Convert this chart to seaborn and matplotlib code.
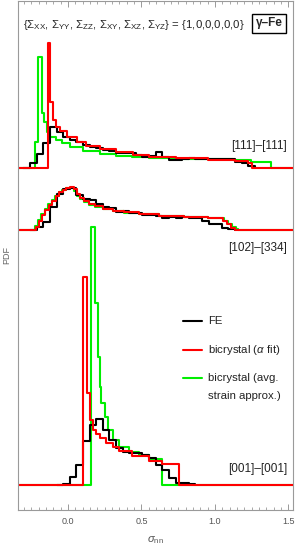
import numpy as np
import pandas as pd
import seaborn as sns
import matplotlib.pyplot as plt
from matplotlib.ticker import MultipleLocator

sns.set_theme(style='white')
plt.rcParams['font.family'] = ['Liberation Sans', 'DejaVu Sans']
plt.rcParams['mathtext.fontset'] = 'custom'
plt.rcParams['mathtext.rm'] = 'Liberation Sans'
plt.rcParams['mathtext.it'] = 'Liberation Sans:italic'
plt.rcParams['mathtext.bf'] = 'Liberation Sans:bold'

# ---- data (sigma_nn bin edges, PDF heights) ----
# FE histograms: uniform bins
fe_width = 0.045
fe_top_start = -0.303
fe_top_pdf = [0.0, 0.25, 0.72, 1.25, 2.08, 1.83, 1.58, 1.42, 1.32, 1.17, 1.08, 1.0,
              0.92, 0.87, 0.75, 0.75, 0.75, 0.68, 0.55, 0.62, 0.80, 0.58, 0.42, 0.42,
              0.45, 0.50, 0.47, 0.47, 0.46, 0.45, 0.45, 0.45, 0.33, 0.25, 0.13]
fe_mid_start = -0.258
fe_mid_pdf = [0.0, 0.15, 0.40, 1.15, 1.80, 2.05, 2.08, 1.75, 1.55, 1.50, 1.30, 1.17,
              1.08, 0.92, 0.95, 0.83, 0.87, 0.75, 0.75, 0.72, 0.60, 0.65, 0.62, 0.65,
              0.60, 0.58, 0.47, 0.30, 0.28, 0.08, 0.05]
fe_bot_start = -0.078
fe_bot_pdf = [0.0, 0.04, 0.42, 1.0, 2.2, 3.0, 3.28, 2.75, 2.25, 1.83, 1.67, 1.62,
              1.58, 1.5, 1.33, 1.0, 0.75, 0.33, 0.08, 0.08, 0.05]

# bicrystal (alpha fit)
red_top_edges = [-0.40, -0.139, -0.121, -0.103, -0.081, -0.054, -0.009, 0.059, 0.126,
                 0.215, 0.328, 0.440, 0.552, 0.732, 0.956, 1.136, 1.226, 1.253, 1.60]
red_top_pdf = [0, 6.25, 3.33, 2.42, 2.08, 1.87, 1.57, 1.32, 1.12, 0.94, 0.79, 0.67,
               0.58, 0.50, 0.42, 0.34, 0.24, 0]
red_mid_edges = [-0.40, -0.215, -0.200, -0.177, -0.155, -0.131, -0.108, -0.084, -0.061,
                 -0.037, -0.013, 0.013, 0.040, 0.061, 0.081, 0.108, 0.141, 0.182, 0.236,
                 0.303, 0.384, 0.485, 0.620, 0.788, 0.956, 1.057, 1.084, 1.111, 1.138, 1.60]
red_mid_pdf = [0, 0.17, 0.45, 0.75, 1.0, 1.25, 1.45, 1.7, 1.9, 2.0, 2.1, 2.15, 2.05,
               1.8, 1.6, 1.45, 1.3, 1.18, 1.06, 0.97, 0.89, 0.8, 0.72, 0.65, 0.58,
               0.45, 0.28, 0.1, 0]
red_bot_edges = [-0.40, 0.103, 0.130, 0.152, 0.168, 0.189, 0.215, 0.261, 0.303, 0.350,
                 0.438, 0.552, 0.640, 0.754, 1.60]
red_bot_pdf = [0, 10.4, 4.58, 3.25, 2.75, 2.55, 2.33, 2.1, 1.9, 1.68, 1.43, 1.22, 1.05, 0]

# bicrystal (avg. strain approx.)
green_top_edges = [-0.40, -0.224, -0.207, -0.180, -0.162, -0.141, -0.121, -0.081, -0.040,
                   0.013, 0.101, 0.215, 0.330, 0.438, 0.552, 0.734, 0.956, 1.125, 1.246,
                   1.383, 1.60]
green_top_pdf = [0, 1.33, 5.58, 2.75, 2.3, 1.83, 1.58, 1.42, 1.27, 1.04, 0.87, 0.73,
                 0.63, 0.57, 0.53, 0.48, 0.44, 0.39, 0.33, 0]
green_mid_edges = [-0.40, -0.222, -0.205, -0.182, -0.158, -0.135, -0.111, -0.088, -0.064,
                   -0.040, -0.013, 0.013, 0.040, 0.061, 0.081, 0.108, 0.141, 0.182, 0.236,
                   0.303, 0.384, 0.485, 0.620, 0.788, 0.956, 1.064, 1.091, 1.118, 1.145,
                   1.158, 1.60]
green_mid_pdf = [0, 0.2, 0.5, 0.8, 1.05, 1.3, 1.5, 1.72, 1.9, 2.02, 2.1, 2.12, 1.95, 1.72,
                 1.55, 1.4, 1.27, 1.15, 1.04, 0.95, 0.87, 0.79, 0.71, 0.65, 0.58, 0.47,
                 0.32, 0.16, 0.05, 0]
green_bot_edges = [-0.40, 0.160, 0.182, 0.204, 0.215, 0.227, 0.249, 0.271, 0.305, 0.350,
                   0.418, 0.485, 0.552, 0.642, 1.60]
green_bot_pdf = [0, 12.9, 9.1, 6.4, 4.9, 4.1, 3.4, 2.75, 2.25, 1.92, 1.67, 1.5, 1.3, 0]

panel_labels = ['[111]\u2013[111]', '[102]\u2013[334]', '[001]\u2013[001]']
series_labels = ['FE', r'bicrystal ($\alpha$ fit)', 'bicrystal (avg.\nstrain approx.)']

# vertical offsets of the three stacked curves
offsets = {'top': 17.09, 'mid': 14.0, 'bot': 1.25}
colors = {'FE': '#000000', 'alpha': '#ff0000', 'avg': '#00ee00'}


def fe_edges(start, pdf):
    return list(start + fe_width * np.arange(len(pdf) + 1))


curves = [
    ('top', 'avg', green_top_edges, green_top_pdf),
    ('mid', 'avg', green_mid_edges, green_mid_pdf),
    ('bot', 'avg', green_bot_edges, green_bot_pdf),
    ('top', 'FE', fe_edges(fe_top_start, fe_top_pdf), fe_top_pdf),
    ('mid', 'FE', fe_edges(fe_mid_start, fe_mid_pdf), fe_mid_pdf),
    ('bot', 'FE', fe_edges(fe_bot_start, fe_bot_pdf), fe_bot_pdf),
    ('top', 'alpha', red_top_edges, red_top_pdf),
    ('mid', 'alpha', red_mid_edges, red_mid_pdf),
    ('bot', 'alpha', red_bot_edges, red_bot_pdf),
]

fig = plt.figure(figsize=(2.95, 5.45), dpi=100)
ax = fig.add_axes([18 / 295, 35 / 545, 275 / 295, 509 / 545])

for panel, kind, edges, pdf in curves:
    df = pd.DataFrame({'sigma': edges, 'pdf': np.array(list(pdf) + [0.0]) + offsets[panel]})
    sns.lineplot(data=df, x='sigma', y='pdf', ax=ax, color=colors[kind], lw=1.5,
                 drawstyle='steps-post', estimator=None, sort=False)

ax.set_xlim(-0.34, 1.531)
ax.set_ylim(0, 25.45)
ax.xaxis.set_major_locator(MultipleLocator(0.5))
ax.xaxis.set_minor_locator(MultipleLocator(0.05))
ax.set_xticks([0, 0.5, 1.0, 1.5])
ax.set_xticklabels(['0.0', '0.5', '1.0', '1.5'])
ax.set_yticks([])
grey = '#9a9a9a'
for s in ax.spines.values():
    s.set_color(grey)
    s.set_linewidth(0.8)
ax.tick_params(axis='x', which='both', direction='in', top=True, bottom=True,
               color=grey, labelsize=6.5, labelcolor='#555555', pad=5)
ax.tick_params(axis='x', which='major', length=4, width=0.7)
ax.tick_params(axis='x', which='minor', length=2, width=0.6)
ax.set_xlabel(r'$\sigma_{\rm nn}$', fontsize=8, color='#555555', labelpad=6)
ax.set_ylabel('PDF', fontsize=6.5, color='#666666', labelpad=5)

# annotations
ax.text(0.018, 0.953,
        r'{$\Sigma_{\rm XX}$, $\Sigma_{\rm YY}$, $\Sigma_{\rm ZZ}$, $\Sigma_{\rm XY}$, '
        r'$\Sigma_{\rm XZ}$, $\Sigma_{\rm YZ}$} = {1,0,0,0,0,0}',
        transform=ax.transAxes, fontsize=8.2, color='#222222', va='center', ha='left')
ax.text(0.913, 0.956, '\u03b3\u2013Fe', transform=ax.transAxes, fontsize=8.5,
        fontweight='bold', ha='center', va='center',
        bbox=dict(boxstyle='square,pad=0.33', fc='white', ec='black', lw=1.0))
for lab, y in zip(panel_labels, [0.715, 0.515, 0.081]):
    ax.text(0.978, y, lab, transform=ax.transAxes, fontsize=8.5, color='#222222',
            ha='right', va='center')

# legend
for kind, lab, y in zip(['FE', 'alpha', 'avg'], series_labels, [0.372, 0.314, 0.259]):
    ax.plot([0.6, 0.669], [y, y], transform=ax.transAxes, color=colors[kind], lw=1.5)
    for i, line in enumerate(lab.split('\n')):
        ax.text(0.691, y - 0.036 * i, line, transform=ax.transAxes, fontsize=8.2,
                color='#222222', ha='left', va='center')

fig.savefig('out.png', dpi=100)
